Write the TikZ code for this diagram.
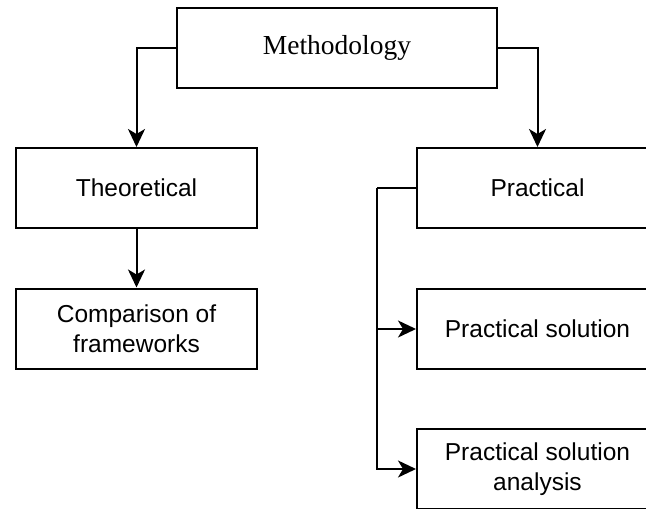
\documentclass[tikz,border=0pt]{standalone}
\usepackage{fontspec}
\setmainfont{Liberation Serif}
\newfontfamily\boxsans{Liberation Sans}
\usetikzlibrary{arrows.meta}
\tikzset{
  box/.style={draw, line width=2pt, minimum width=241pt, minimum height=80pt,
    inner sep=0pt, align=center, font=\boxsans\fontsize{24.5}{29.5}\selectfont},
  topbox/.style={box, minimum width=320pt, font=\fontsize{27.5}{32}\selectfont},
  arr/.style={line width=2pt, -{Stealth[length=18pt, width=17pt, inset=5pt]}},
}
\begin{document}
\begin{tikzpicture}[x=1pt, y=-1pt]
  \useasboundingbox (0,0) rectangle (646,509);
  \clip (0,0) rectangle (646,509);

  % boxes
  \node[topbox] (meth) at (337,48) {Methodology};
  \node[box] (theo) at (136.5,188) {Theoretical};
  \node[box] (comp) at (136.5,328.5) {Comparison of\\frameworks};
  \node[box] (prac) at (537.5,188) {Practical};
  \node[box] (sol)  at (537.5,329) {Practical solution};
  \node[box] (ana)  at (537.5,469) {Practical solution\\analysis};

  % connectors
  \draw[arr] (meth.west) -| (theo.north);
  \draw[arr] (meth.east) -| (prac.north);
  \draw[arr] (theo.south) -- (comp.north);

  \coordinate (bus) at (377,188);
  \draw[line width=2pt] (prac.west) -- (bus);
  \draw[arr] (bus) |- (sol.west);
  \draw[arr] (bus) |- (ana.west);
\end{tikzpicture}
\end{document}
